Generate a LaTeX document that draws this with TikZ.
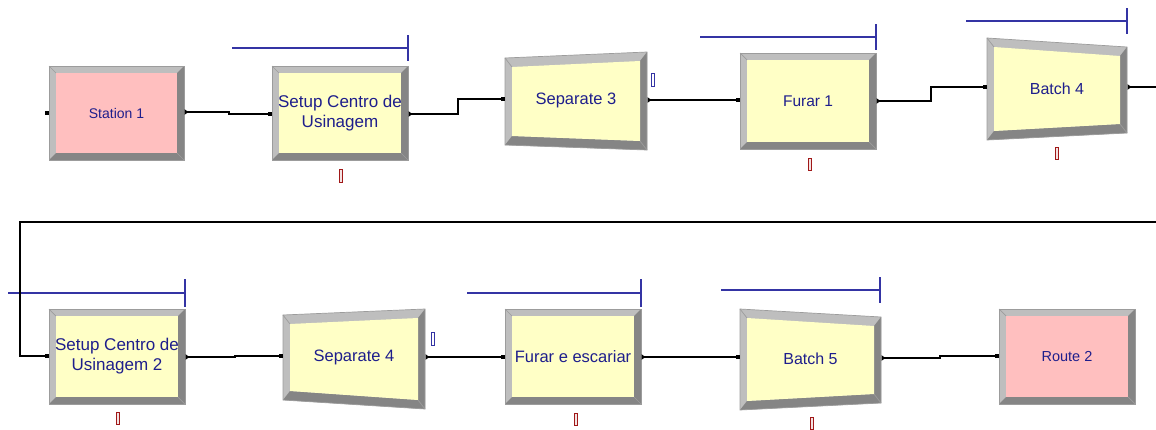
\documentclass[tikz,border=0pt]{standalone}
\usepackage{fontspec}
\setmainfont{Liberation Sans}
\usetikzlibrary{calc}

\definecolor{modyellow}{HTML}{FFFFC6}
\definecolor{modpink}{HTML}{FFBFBF}
\definecolor{bevlight}{HTML}{BEBEBE}
\definecolor{bevdark}{HTML}{858585}
\definecolor{bevedge}{HTML}{9C9C9C}
\definecolor{modtext}{HTML}{1E1E8C}
\definecolor{qblue}{HTML}{3434A4}
\definecolor{resred}{HTML}{A01818}

\tikzset{
  conn/.style={draw=black, line width=1.1pt},
  entrypt/.style={fill=black, minimum size=4.5pt, inner sep=0pt, outer sep=0pt},
  modlabel/.style={text=modtext, align=center, inner sep=0pt},
  edgeline/.style={draw=bevedge, line width=0.7pt},
  queueline/.style={draw=qblue, line width=1.2pt},
  resbox/.style={draw=resred, fill=resred!12, line width=0.9pt},
  sepbox/.style={draw=qblue, fill=white, line width=0.9pt}
}

% rectangular module with bevelled frame
% #1 name, (#2,#3) top-left, (#4,#5) bottom-right, #6 fill, #7 font size, #8 label
\newcommand{\rectmod}[8]{%
  \fill[bevlight] (#2,#3) rectangle (#4,#5);
  \fill[bevdark] (#4,#3) -- (#4,#5) -- (#2,#5) -- ({#2+7},{#5-7}) -- ({#4-7},{#5-7}) -- ({#4-7},{#3+7}) -- cycle;
  \fill[#6] ({#2+7},{#3+7}) rectangle ({#4-7},{#5-7});
  \draw[edgeline] (#2,#3) -- ({#2+7},{#3+7}) (#4,#5) -- ({#4-7},{#5-7});
  \draw[edgeline] (#2,#3) rectangle (#4,#5);
  \node[modlabel, font={\fontsize{#7}{20}\selectfont}, minimum width={#4-#2}, minimum height={#5-#3}]
    (#1) at ({(#2+#4)/2},{(#3+#5)/2}) {#8};
}

% tapered module (Batch / Separate)
% #1 name, #2 left x, #3/#4 left top/bottom y, #5 right x, #6/#7 right top/bottom y, #8 font size, #9 label
\newcommand{\trapmod}[9]{%
  \fill[bevlight] (#2,#3) -- (#5,#6) -- (#5,#7) -- (#2,#4) -- cycle;
  \fill[bevdark] (#5,#6) -- (#5,#7) -- (#2,#4) -- ({#2+7},{#4-9}) -- ({#5-7},{#7-9}) -- ({#5-7},{#6+9}) -- cycle;
  \fill[modyellow] ({#2+7},{#3+9}) -- ({#5-7},{#6+9}) -- ({#5-7},{#7-9}) -- ({#2+7},{#4-9}) -- cycle;
  \draw[edgeline] (#2,#3) -- ({#2+7},{#3+9}) (#5,#7) -- ({#5-7},{#7-9});
  \draw[edgeline] (#2,#3) -- (#5,#6) -- (#5,#7) -- (#2,#4) -- cycle;
  \node[modlabel, font={\fontsize{#8}{20}\selectfont}]
    (#1) at ({(#2+#5)/2},{(#3+#4+#6+#7)/4-1}) {#9};
}

% exit point of a module
\newcommand{\exitpt}[3]{%
  \coordinate (#1) at (#2,#3);
  \fill ({#2-1.5},{#3-2.8}) -- ({#2+2.5},{#3}) -- ({#2-1.5},{#3+2.8}) -- cycle;
}

% queue line above a module
\newcommand{\queuebar}[4]{% x start, x end, y, tick half-height
  \draw[queueline] (#1,#3) -- (#2,#3) (#2,{#3-#4}) -- (#2,{#3+#4});
}

\begin{document}
\begin{tikzpicture}[x=1pt, y=-1pt]
\useasboundingbox[fill=white] (0,0) rectangle (1156,429);

% ---------- first row ----------
\rectmod{st1}{49}{66}{184}{160}{modpink}{14}{Station 1}
\rectmod{set1}{272}{66}{408}{160}{modyellow}{17}{Setup Centro de\\Usinagem}
\trapmod{sep3}{505}{58}{145}{647}{52}{150}{16.5}{Separate 3}
\rectmod{fur1}{740}{53}{876}{149}{modyellow}{15.5}{Furar 1}
\trapmod{bat4}{987}{38}{140}{1127}{47}{133}{16}{Batch 4}

\node[entrypt] (st1-in)  at (47,113) {};
\node[entrypt] (set1-in) at (270,114) {};
\node[entrypt] (sep3-in) at (503,99) {};
\node[entrypt] (fur1-in) at (738,100) {};
\node[entrypt] (bat4-in) at (985,87) {};

\exitpt{st1-out}{186}{112}
\exitpt{set1-out}{410}{114}
\exitpt{sep3-out}{649}{100}
\exitpt{fur1-out}{878}{101}
\exitpt{bat4-out}{1129}{87}

\queuebar{232}{408}{48}{13}
\queuebar{700}{876}{37}{13}
\queuebar{966}{1127}{21}{13}

\draw[resbox] (339.5,169) rectangle (342.5,182);
\draw[resbox] (808.5,158) rectangle (811.5,170);
\draw[resbox] (1055.5,147) rectangle (1058.5,159);
\draw[sepbox] (651,73) rectangle (654,86);

% ---------- second row ----------
\rectmod{set2}{49}{309}{185}{404}{modyellow}{17}{Setup Centro de\\Usinagem 2}
\trapmod{sep4}{283}{315}{400}{425}{309}{409}{16.5}{Separate 4}
\rectmod{ff}{505}{309}{641}{404}{modyellow}{16.5}{Furar e escariar}
\trapmod{bat5}{740}{309}{410}{881}{317}{403}{16}{Batch 5}
\rectmod{rt2}{999}{309}{1135}{404}{modpink}{14.5}{Route 2}

\node[entrypt] (set2-in) at (47,356) {};
\node[entrypt] (sep4-in) at (281,356) {};
\node[entrypt] (ff-in)   at (503,357) {};
\node[entrypt] (bat5-in) at (738,357) {};
\node[entrypt] (rt2-in)  at (997,356) {};

\exitpt{set2-out}{187}{357}
\exitpt{sep4-out}{427}{357}
\exitpt{ff-out}{643}{357}
\exitpt{bat5-out}{883}{358}

\queuebar{8}{185}{293}{14}
\queuebar{467}{641}{293}{14}
\queuebar{721}{880}{290}{13}

\draw[resbox] (116,412) rectangle (119,424);
\draw[resbox] (574,413) rectangle (577,425);
\draw[resbox] (810.5,417) rectangle (813.5,429);
\draw[sepbox] (431,332) rectangle (434,345);

% ---------- connectors ----------
\draw[conn] (st1-out) -- ++(43,0) |- (set1-in.center);
\draw[conn] (set1-out) -- ++(48,0) |- (sep3-in.center);
\draw[conn] (sep3-out) -- (fur1-in.center);
\draw[conn] (fur1-out) -- ++(53,0) |- (bat4-in.center);
\coordinate (row1-end) at (1156,87);
\draw[conn] (bat4-out) -- (row1-end);

\coordinate (loop-start) at (1156,222);
\coordinate (loop-corner) at (20,222);
\draw[conn] (loop-start) -- (loop-corner) |- (set2-in.center);

\draw[conn] (set2-out) -- ++(48,0) |- (sep4-in.center);
\draw[conn] (sep4-out) -- (ff-in.center);
\draw[conn] (ff-out) -- (bat5-in.center);
\draw[conn] (bat5-out) -- ++(57,0) |- (rt2-in.center);
\end{tikzpicture}
\end{document}
